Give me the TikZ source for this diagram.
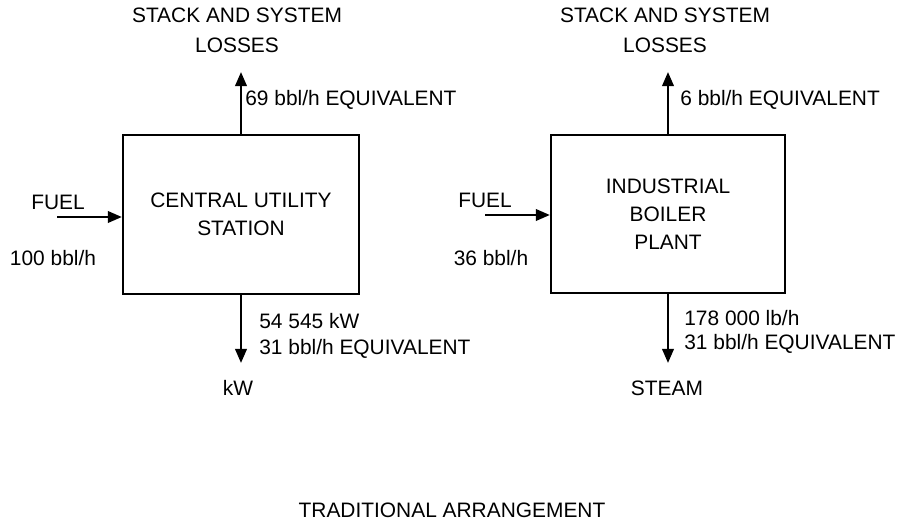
\documentclass[tikz,border=0pt]{standalone}
\usepackage{fontspec}
\setmainfont{Liberation Sans}
\usetikzlibrary{arrows.meta,positioning}

\begin{document}
\begin{tikzpicture}[x=0.02cm, y=-0.02cm, >={Triangle[length=8pt,width=6.5pt]}]
        \tikzset{plant/.style={rectangle, draw, line width=1.3pt, minimum width=4.72cm, minimum height=3.18cm, align=center, inner sep=0pt}, flow/.style={->, line width=1.4pt}, lbl/.style={font=\fontsize{11.9}{16}\selectfont, inner sep=0pt, align=center}}
        \useasboundingbox (0,0) rectangle (914,521);
        % central utility station
        \node[plant, lbl] (cus) at (241,214.5) {CENTRAL UTILITY\\STATION};
        \node[lbl] (cuslosses) at (237,30) {STACK AND SYSTEM\\[1pt]LOSSES};
        \node[lbl, anchor=west] (cusloss) at (245,100) {69 bbl/h EQUIVALENT};
        \node[lbl] (cusfuel) at (58,202) {FUEL};
        \node[lbl] (cusrate) at (53,258) {100 bbl/h};
        \node[lbl, anchor=west, align=left] (cusout) at (259,336) {54 545 kW\\[-1pt]31 bbl/h EQUIVALENT};
        \node[lbl] (kw) at (238,388) {kW};
        \coordinate (cusin) at (57,217);
        \coordinate (cusup) at (241,72);
        \coordinate (cusdown) at (241,363);
        \draw[flow] (cusin) -- (cusin -| cus.west);
        \draw[flow] (cus.north) -- (cusup);
        \draw[flow] (cus.south) -- (cusdown);
        % industrial boiler plant
        \node[plant, lbl, minimum width=4.68cm, minimum height=3.16cm] (ibp) at (668,214) {INDUSTRIAL\\BOILER\\PLANT};
        \node[lbl] (ibplosses) at (665,30) {STACK AND SYSTEM\\[1pt]LOSSES};
        \node[lbl, anchor=west] (ibploss) at (680,100) {6 bbl/h EQUIVALENT};
        \node[lbl] (ibpfuel) at (485,200) {FUEL};
        \node[lbl] (ibprate) at (491,258) {36 bbl/h};
        \node[lbl, anchor=west, align=left] (ibpout) at (684,332) {178 000 lb/h\\[-2pt]31 bbl/h EQUIVALENT};
        \node[lbl] (steam) at (667,388) {STEAM};
        \coordinate (ibpin) at (485,215);
        \coordinate (ibpup) at (668,72);
        \coordinate (ibpdown) at (668,363);
        \draw[flow] (ibpin) -- (ibpin -| ibp.west);
        \draw[flow] (ibp.north) -- (ibpup);
        \draw[flow] (ibp.south) -- (ibpdown);
        \node[lbl] (title) at (452,510) {TRADITIONAL ARRANGEMENT};
    \end{tikzpicture}
\end{document}
